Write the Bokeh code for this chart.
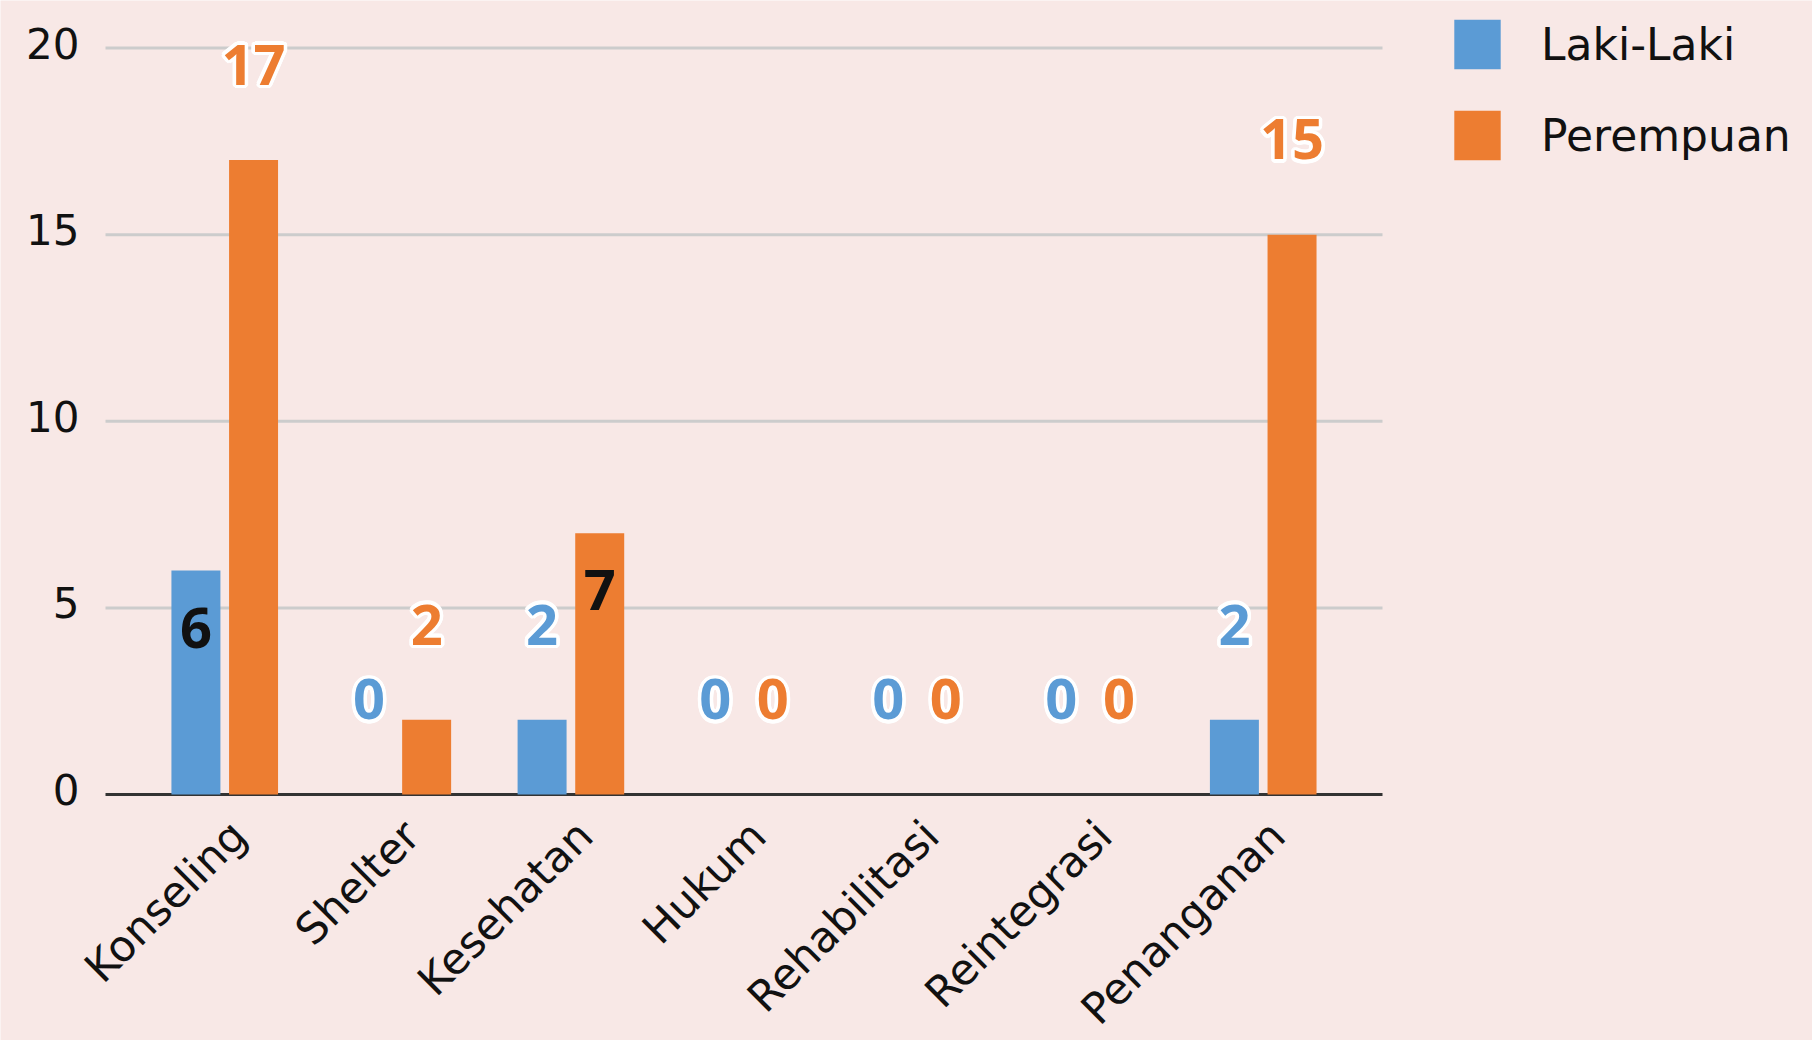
import numpy as np
from bokeh.plotting import figure
from bokeh.models import Range1d, Legend, LegendItem, ColumnDataSource
from bokeh.core.properties import value
from bokeh.embed import file_html
from bokeh.resources import INLINE

categories = ["Konseling", "Shelter", "Kesehatan", "Hukum", "Rehabilitasi", "Reintegrasi", "Penanganan"]
laki_laki = [6, 0, 2, 0, 0, 0, 2]
perempuan = [17, 2, 7, 0, 0, 0, 15]
y_ticks = [0, 5, 10, 15, 20]

# label placement style (inside bar end or above bar)
laki_pos = ["in", "out", "out", "out", "out", "out", "out"]
perem_pos = ["out", "out", "in", "out", "out", "out", "out"]

BLUE = "#5B9BD5"
ORANGE = "#ED7D31"
BG = "#F8E8E6"
FONT = value("DejaVu Sans")
LFONT = value("Open Sans")

# layout (pixels)
W, H = 1812, 1040
X0_PX, PX_PER_CAT = 224.5, 173.08      # first category centre, category pitch
Y0_PX, PX_PER_UNIT = 794.0, 37.325     # value 0 position, px per value unit
AX_LEFT_PX, AX_RIGHT_PX = 105, 1382    # extent of the grid / axis line

x_start = -X0_PX / PX_PER_CAT
x_end = (W - X0_PX) / PX_PER_CAT
gx0 = (AX_LEFT_PX - X0_PX) / PX_PER_CAT
gx1 = (AX_RIGHT_PX - X0_PX) / PX_PER_CAT

p = figure(width=W, height=H, output_backend="svg", toolbar_location=None,
           x_axis_location=None, y_axis_location=None,
           x_range=Range1d(x_start, x_end),
           y_range=Range1d(-(H - Y0_PX) / PX_PER_UNIT, Y0_PX / PX_PER_UNIT),
           min_border_left=0, min_border_right=0, min_border_top=0, min_border_bottom=0)
p.background_fill_color = BG
p.border_fill_color = BG
p.outline_line_color = None
p.xgrid.visible = False
p.ygrid.visible = False

# gridlines and baseline
p.segment(x0=gx0, x1=gx1, y0=y_ticks[1:], y1=y_ticks[1:], line_color="#CCCCCC", line_width=3)
p.segment(x0=gx0, x1=gx1, y0=0, y1=0, line_color="#333333", line_width=3)

# y tick labels
p.text(x=gx0, y=y_ticks, text=[str(t) for t in y_ticks], x_offset=-26, y_offset=-5,
       text_align="right", text_baseline="middle", text_font=FONT,
       text_font_size="42px", text_color="#111111")

idx = np.arange(len(categories))
bw = 0.283
xl = idx - 0.168
xp = idx + 0.165

rl = p.vbar(x=xl, top=laki_laki, width=bw, fill_color=BLUE, line_color=None)
rp = p.vbar(x=xp, top=perempuan, width=bw, fill_color=ORANGE, line_color=None)

def labels(xs, vals, pos, color):
    ys, cols = [], []
    for v, ps in zip(vals, pos):
        if ps == "in":
            ys.append(v - 1.53)
            cols.append("#111111")
        else:
            ys.append(v + 2.55)
            cols.append(color)
    src = ColumnDataSource(dict(x=list(xs), y=ys, t=[str(v) for v in vals], c=cols))
    ox = [xx for xx, ps in zip(xs, pos) if ps == "out"]
    oy = [yy for yy, ps in zip(ys, pos) if ps == "out"]
    ot = [str(v) for v, ps in zip(vals, pos) if ps == "out"]
    for ang in np.linspace(0, 2 * np.pi, 16, endpoint=False):
        p.text(x=ox, y=oy, text=ot, x_offset=3.5 * np.cos(ang), y_offset=3.5 * np.sin(ang),
               text_color="white", text_font=LFONT, text_font_style="bold", text_font_size="56px",
               text_align="center", text_baseline="middle")
    p.text(x="x", y="y", text="t", text_color="c", source=src, text_font=LFONT,
           text_font_style="bold", text_font_size="56px", text_align="center", text_baseline="middle")

labels(xl, laki_laki, laki_pos, BLUE)
labels(xp, perempuan, perem_pos, ORANGE)

# category labels, rotated 45 degrees
p.text(x=idx, y=np.zeros(len(idx)), text=categories, angle=np.pi / 4,
       x_offset=-4, y_offset=16, text_align="right", text_baseline="top",
       text_font=FONT, text_font_size="43px", text_color="#111111")

# legend
GW, GH = 58, 62
LEG_LEFT, LEG_TOP, SPACING = 1448, 13, 29
leg_h = 2 * GH + SPACING
legend = Legend(items=[LegendItem(label="Laki-Laki", renderers=[rl]),
                       LegendItem(label="Perempuan", renderers=[rp])],
                location=(LEG_LEFT, H - LEG_TOP - leg_h), orientation="vertical",
                glyph_width=GW, glyph_height=GH, label_standoff=35, spacing=SPACING,
                padding=0, margin=0, border_line_color=None, background_fill_alpha=0,
                label_text_font="DejaVu Sans", label_text_font_size="44px",
                label_text_color="#111111")
p.add_layout(legend, "center")

open("out.html", "w").write(file_html(p, INLINE))
